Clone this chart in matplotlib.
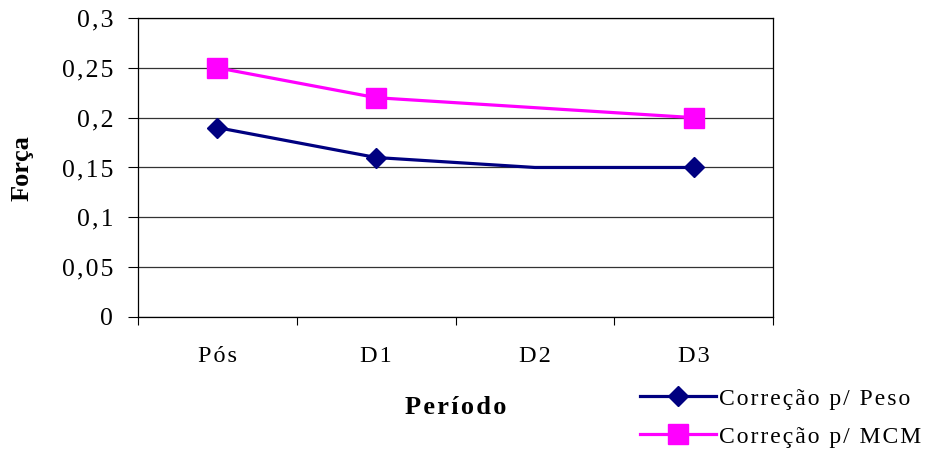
import numpy as np
import matplotlib.pyplot as plt
from matplotlib.ticker import FuncFormatter, MultipleLocator

plt.rcParams['font.family'] = ['Liberation Serif', 'DejaVu Serif']

periodos = ['Pós', 'D1', 'D2', 'D3']
peso = [0.19, 0.16, 0.15, 0.15]
mcm = [0.25, 0.22, 0.21, 0.20]
marcados = [0, 1, 3]  # D2 sem marcador


def espaco(s):
    # espaçamento entre letras (hair space)
    return '\u200a'.join(s)


fig = plt.figure(figsize=(9.3, 4.49), dpi=100)
ax = fig.add_axes([0.1484, 0.294, 0.6828, 0.666])

x = np.arange(len(periodos)) + 0.5
ax.plot(x, peso, color='#000080', lw=2.3, marker='D', ms=10.5,
        markevery=marcados, label=espaco('Correção p/ Peso'), zorder=3)
ax.plot(x, mcm, color='#FF00FF', lw=2.3, marker='s', ms=14,
        markevery=marcados, label=espaco('Correção p/ MCM'), zorder=3)

ax.set_xlim(0, len(periodos))
ax.set_ylim(0, 0.3)
ax.yaxis.set_major_locator(MultipleLocator(0.05))
ax.yaxis.set_major_formatter(FuncFormatter(
    lambda v, p: espaco(('%g' % round(v, 2)).replace('.', ','))))
ax.set_xticks(np.arange(len(periodos) + 1))
ax.set_xticklabels([])
ax.set_xticks(x, minor=True)
ax.set_xticklabels([espaco(p) for p in periodos], minor=True)
ax.tick_params(axis='x', which='minor', length=0, pad=21, labelsize=17.5)
ax.tick_params(axis='x', which='major', length=6, width=0.8)
ax.tick_params(axis='y', length=7, width=0.8, pad=11, labelsize=18.5)
ax.grid(axis='y', color='#333333', lw=0.9)
ax.set_axisbelow(True)
for s in ax.spines.values():
    s.set_linewidth(0.9)

fig.text(22 / 930, 1 - 168 / 449, 'Força', rotation=90, fontsize=19,
         fontweight='bold', ha='center', va='center')
fig.text(456 / 930, 1 - 407 / 449, espaco('Período'), fontsize=19,
         fontweight='bold', ha='center', va='center')

fig.legend(loc='upper left', bbox_to_anchor=(640 / 930, 1 - 388 / 449), frameon=False,
           fontsize=17, handlelength=3.2, handletextpad=0.15, labelspacing=0.7,
           borderpad=0, borderaxespad=0)

fig.savefig('out.png', dpi=100)
